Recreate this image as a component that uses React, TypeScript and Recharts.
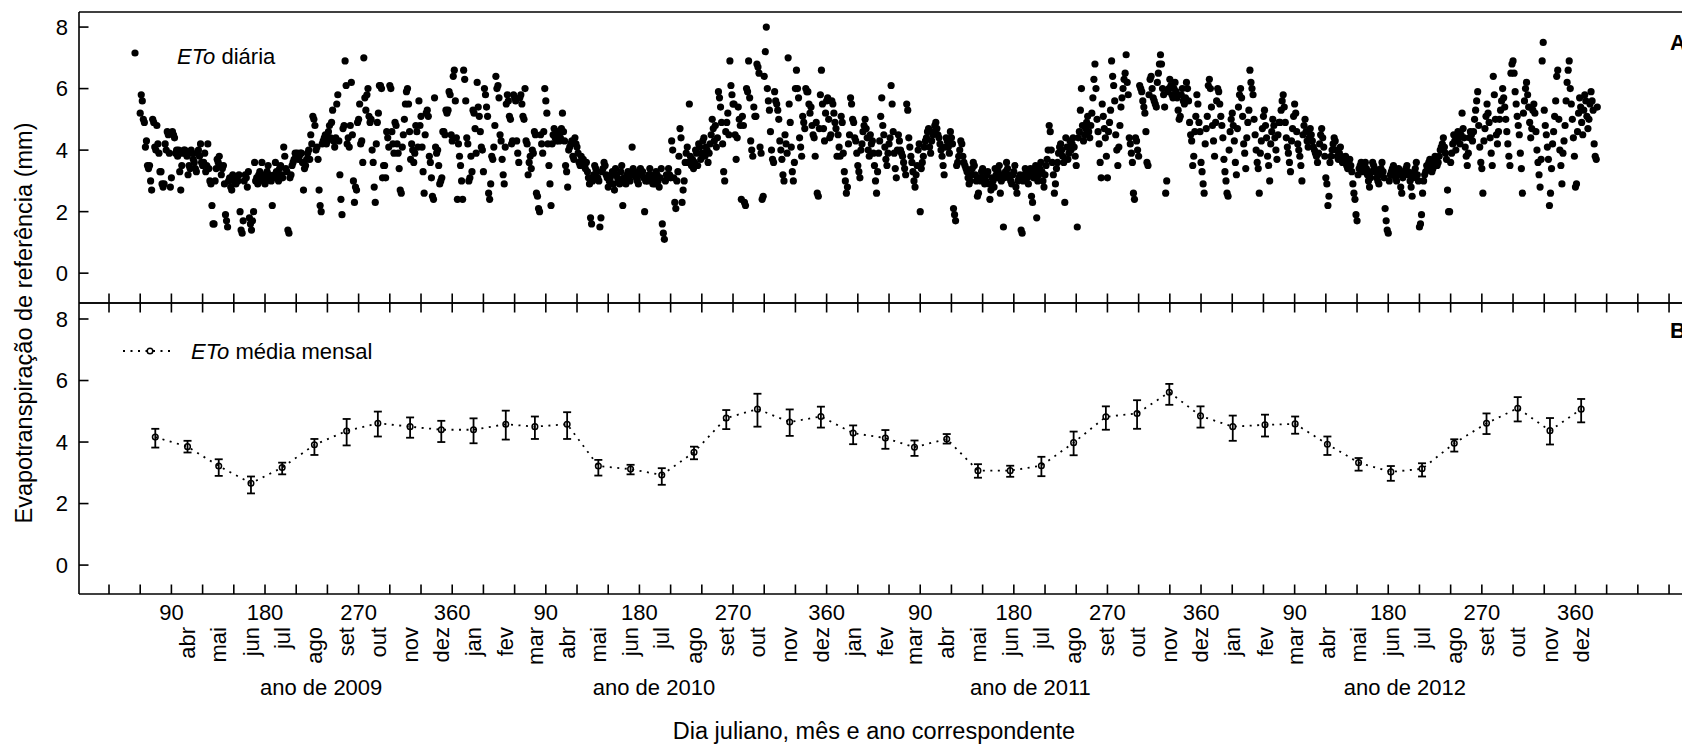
import { ComposedChart, ErrorBar, Line, Scatter, XAxis, YAxis } from "recharts";

const FONT = '"Liberation Sans", Arial, Helvetica, sans-serif';
const TICK = 9.5;
const LINE = 1.6;

// daily ETo (mm), one list per month; 2009 starts in March
const eto2009 = [
  [5.2, 5.8, 5.6, 5.0, 4.9, 4.1, 4.3, 3.5, 3.4, 3.5, 3.0, 2.7, 5.0, 4.9, 4.1, 4.0, 4.8, 4.2, 3.9, 3.3, 3.3, 2.9, 2.8, 2.9, 4.2, 4.0, 4.6, 4.5, 3.9, 2.8, 3.1],
  [4.6, 4.5, 4.4, 3.9, 4.0, 3.8, 4.0, 3.3, 2.7, 3.5, 3.9, 4.0, 4.0, 3.9, 3.8, 3.2, 3.5, 3.4, 4.0, 3.9, 3.7, 3.6, 3.4, 3.3, 3.9, 4.0, 3.8, 4.2, 3.6, 3.5],
  [3.6, 3.9, 3.3, 3.5, 4.2, 3.4, 3.0, 2.9, 2.2, 1.6, 1.6, 3.0, 3.4, 3.7, 3.6, 3.8, 3.5, 3.2, 3.4, 3.5, 2.9, 1.9, 1.7, 1.5, 3.0, 3.1, 2.8, 2.7, 3.2, 3.0, 3.1],
  [2.9, 3.1, 3.0, 3.2, 2.0, 1.4, 1.3, 1.7, 3.0, 3.2, 3.1, 2.8, 3.3, 1.8, 1.6, 1.4, 1.7, 2.0, 3.6, 3.0, 3.1, 2.9, 3.2, 3.3, 3.0, 3.6, 3.2, 3.1, 2.9, 3.0],
  [3.3, 3.5, 3.2, 3.1, 3.0, 2.2, 3.1, 3.2, 3.6, 3.3, 3.1, 3.0, 3.4, 3.5, 3.2, 3.1, 4.1, 3.8, 3.4, 3.3, 1.4, 1.3, 3.1, 3.2, 3.5, 3.6, 3.7, 3.9, 3.8, 3.9, 3.7],
  [3.8, 3.9, 3.9, 3.6, 2.7, 3.4, 3.5, 3.7, 3.9, 4.0, 3.7, 4.5, 4.2, 5.1, 5.0, 4.8, 4.0, 4.1, 3.7, 2.7, 2.2, 2.0, 4.2, 4.3, 4.4, 4.5, 4.2, 4.3, 4.6, 4.8, 4.4],
  [4.9, 5.3, 4.3, 4.1, 4.4, 5.5, 5.8, 4.3, 3.2, 2.4, 1.9, 4.7, 4.8, 6.9, 6.1, 4.2, 4.4, 4.1, 4.8, 6.2, 4.5, 3.0, 2.3, 2.8, 2.7, 4.9, 5.0, 5.5, 4.2, 4.3],
  [3.6, 7.0, 5.7, 5.3, 5.8, 6.0, 5.1, 4.9, 5.0, 4.0, 3.6, 2.8, 2.3, 4.2, 4.9, 5.2, 6.1, 6.1, 6.0, 3.1, 3.5, 3.5, 3.1, 4.6, 4.4, 4.1, 6.1, 6.0, 4.6, 4.2, 3.9],
  [4.9, 4.8, 4.2, 3.9, 3.4, 2.7, 2.6, 4.1, 4.5, 5.0, 5.5, 5.9, 6.0, 5.5, 4.6, 3.7, 4.2, 4.0, 3.6, 3.9, 4.8, 4.6, 4.1, 5.6, 4.8, 5.1, 4.1, 3.3, 2.6, 4.5],
  [5.2, 5.3, 5.1, 3.8, 3.6, 3.1, 2.5, 2.4, 5.7, 4.1, 3.9, 4.0, 3.5, 2.9, 3.0, 3.1, 4.6, 4.6, 4.5, 5.3, 5.2, 5.3, 5.9, 5.8, 4.5, 4.3, 6.4, 6.6, 5.6, 4.4, 2.4],
];

const eto2010 = [
  [4.2, 3.8, 3.5, 3.0, 2.4, 6.6, 6.3, 5.6, 4.4, 4.2, 3.0, 3.1, 3.8, 3.3, 5.3, 5.2, 4.7, 3.9, 6.2, 5.4, 5.1, 4.6, 4.1, 4.0, 3.3, 6.0, 5.8, 5.4, 5.1, 2.6, 2.4],
  [2.9, 3.8, 3.7, 4.1, 4.8, 6.4, 6.0, 6.1, 5.7, 4.5, 4.3, 3.7, 3.2, 2.9, 4.1, 5.5, 5.8, 5.6, 5.1, 5.0, 4.2, 4.3, 5.8, 5.7, 5.6, 4.3, 3.9, 3.6],
  [5.7, 5.8, 5.5, 5.1, 5.0, 6.0, 4.3, 4.2, 3.2, 3.6, 3.8, 3.4, 4.0, 3.9, 4.6, 4.5, 2.6, 2.5, 2.1, 2.0, 4.5, 4.2, 3.9, 4.6, 6.0, 5.6, 5.2, 4.2, 3.5, 2.9, 2.2],
  [4.2, 4.5, 4.7, 4.4, 4.3, 4.6, 4.5, 4.3, 4.4, 4.7, 5.2, 4.6, 4.3, 3.5, 3.3, 2.8, 4.0, 4.1, 4.2, 4.3, 3.8, 3.7, 4.4, 4.2, 4.1, 3.9, 3.6, 3.5, 3.8, 3.7],
  [3.7, 3.5, 3.4, 3.6, 3.3, 3.1, 2.9, 1.8, 1.6, 3.0, 3.2, 3.5, 3.4, 3.3, 3.1, 3.0, 1.5, 1.8, 3.3, 3.4, 3.6, 3.5, 3.2, 3.1, 2.8, 3.0, 3.1, 3.2, 3.3, 2.9, 2.7],
  [3.4, 3.2, 3.1, 3.0, 2.9, 3.3, 3.5, 2.2, 3.1, 3.0, 2.9, 3.2, 3.3, 3.1, 3.0, 3.2, 4.1, 3.4, 3.3, 3.2, 3.1, 3.0, 2.9, 3.3, 3.4, 3.2, 3.3, 3.1, 2.0, 3.0],
  [3.1, 3.0, 3.2, 3.4, 3.2, 3.0, 2.9, 3.1, 2.9, 3.3, 3.2, 3.0, 2.8, 3.1, 3.4, 1.6, 1.3, 1.1, 3.0, 3.2, 3.1, 3.4, 3.2, 3.1, 4.3, 4.0, 3.1, 2.3, 2.1, 3.0, 3.3],
  [3.8, 4.7, 4.4, 2.3, 2.7, 3.0, 3.6, 3.9, 4.1, 3.6, 5.5, 3.8, 3.5, 3.7, 3.4, 3.6, 4.0, 3.9, 3.5, 4.2, 4.1, 3.7, 3.9, 4.3, 4.4, 3.8, 4.1, 4.0, 3.6, 3.9, 4.2],
  [4.5, 5.0, 4.7, 4.3, 4.8, 4.1, 4.4, 5.9, 5.7, 5.4, 4.9, 4.2, 3.3, 3.0, 4.6, 4.9, 5.2, 4.5, 6.9, 6.1, 5.8, 5.5, 5.5, 4.5, 3.7, 4.4, 5.4, 5.0, 4.8, 2.4],
  [5.1, 4.8, 2.3, 2.2, 6.0, 5.9, 6.9, 5.7, 4.3, 4.0, 3.8, 5.4, 5.1, 5.1, 6.8, 6.7, 6.5, 4.1, 3.9, 2.4, 2.5, 6.4, 7.2, 8.0, 6.0, 5.6, 5.3, 4.6, 4.0, 3.7, 3.6],
  [5.9, 5.6, 5.5, 5.3, 5.0, 4.3, 4.0, 3.7, 3.2, 3.0, 4.5, 4.2, 3.9, 7.0, 5.5, 4.9, 4.1, 3.3, 3.0, 3.6, 6.0, 6.6, 6.0, 5.7, 4.4, 4.1, 3.8, 5.1, 4.9, 4.7],
  [6.0, 5.9, 5.9, 5.5, 5.2, 5.4, 4.8, 4.5, 4.4, 3.8, 4.9, 2.6, 2.5, 4.7, 5.8, 6.6, 5.5, 4.7, 4.3, 5.2, 5.6, 5.7, 5.0, 4.4, 4.5, 5.6, 5.5, 5.2, 4.9, 4.7, 3.8],
];

const eto2011 = [
  [4.5, 4.1, 3.8, 5.1, 4.9, 3.9, 3.3, 3.0, 2.6, 2.8, 4.2, 4.5, 5.7, 5.5, 5.0, 4.9, 4.4, 4.3, 3.9, 3.5, 3.3, 3.1, 4.0, 4.2, 4.6, 4.8, 5.0, 4.7, 4.4, 4.0, 3.8],
  [4.5, 4.2, 4.3, 3.9, 3.5, 3.0, 2.6, 3.3, 3.9, 4.3, 5.1, 5.7, 4.8, 4.5, 4.1, 3.7, 3.5, 3.9, 4.2, 4.4, 6.1, 5.5, 4.6, 3.9, 3.4, 3.1, 4.0, 4.5],
  [4.3, 4.0, 3.9, 3.8, 3.6, 3.4, 3.2, 5.5, 5.3, 4.4, 4.1, 3.8, 3.6, 3.3, 3.0, 2.8, 3.2, 3.5, 4.0, 4.2, 2.0, 3.4, 3.6, 3.8, 4.1, 4.3, 4.4, 4.6, 4.7, 4.1, 3.9],
  [4.3, 4.5, 4.6, 4.8, 4.9, 4.7, 4.5, 4.4, 4.2, 4.0, 3.8, 3.5, 3.2, 4.1, 4.4, 4.3, 4.1, 3.9, 4.6, 4.4, 4.2, 2.1, 1.9, 1.7, 3.5, 3.6, 3.8, 4.0, 4.3, 4.2],
  [3.8, 3.6, 3.5, 3.4, 3.3, 3.1, 2.9, 3.0, 3.2, 3.4, 3.6, 3.5, 3.2, 3.0, 2.5, 2.6, 3.1, 3.0, 3.3, 3.4, 3.1, 2.9, 3.0, 3.2, 3.3, 2.9, 2.4, 2.7, 3.1, 3.0, 2.8],
  [3.4, 3.2, 3.1, 3.3, 3.5, 2.6, 3.0, 3.2, 1.5, 3.1, 3.3, 3.6, 3.4, 3.2, 3.1, 3.0, 2.9, 3.2, 3.3, 3.5, 2.8, 2.6, 3.0, 3.1, 3.2, 1.4, 1.3, 3.0, 3.2, 3.4],
  [3.3, 3.1, 2.9, 3.2, 3.4, 2.5, 2.3, 3.1, 3.3, 3.5, 1.8, 3.0, 3.2, 3.4, 3.6, 3.3, 3.0, 2.8, 3.2, 3.5, 3.7, 4.0, 4.8, 4.6, 4.0, 3.6, 3.2, 2.6, 2.9, 3.4, 3.6],
  [3.9, 4.1, 4.2, 4.0, 3.8, 3.6, 2.3, 4.4, 4.1, 3.7, 3.9, 4.3, 4.0, 4.2, 4.4, 4.1, 3.8, 3.5, 1.5, 4.4, 4.6, 5.3, 6.0, 4.8, 4.3, 4.5, 4.7, 4.9, 5.1, 4.6, 4.4],
  [4.8, 5.2, 5.7, 6.3, 6.8, 6.0, 5.0, 4.6, 4.2, 3.6, 3.1, 5.5, 5.1, 4.7, 4.4, 3.8, 3.1, 4.6, 4.9, 5.3, 6.9, 6.4, 6.1, 5.6, 4.5, 4.0, 3.5, 4.1, 4.8, 5.4],
  [5.7, 6.0, 6.3, 6.5, 7.1, 6.2, 5.8, 4.4, 4.2, 3.9, 3.6, 2.6, 2.4, 4.4, 4.3, 4.0, 3.8, 6.1, 6.0, 5.9, 5.6, 5.4, 5.2, 4.6, 3.6, 3.5, 5.8, 6.3, 6.4, 6.0, 5.7],
  [5.6, 5.5, 5.4, 6.2, 6.5, 6.8, 7.1, 6.8, 6.0, 5.8, 5.4, 2.6, 3.0, 5.9, 6.0, 6.3, 6.1, 5.8, 5.7, 6.0, 6.2, 5.9, 5.7, 5.3, 5.0, 5.1, 5.8, 6.0, 5.6, 5.5],
  [5.7, 6.2, 6.0, 5.6, 4.9, 4.5, 4.3, 3.5, 3.8, 4.6, 5.1, 5.8, 5.5, 4.9, 4.6, 3.6, 3.3, 2.9, 2.6, 4.2, 4.7, 5.1, 6.1, 6.3, 6.0, 5.4, 4.8, 4.3, 3.8, 4.9, 5.6],
];

const eto2012 = [
  [6.0, 5.9, 5.5, 5.1, 4.8, 4.4, 3.7, 3.3, 3.0, 2.6, 2.5, 4.0, 4.6, 5.0, 5.2, 4.8, 4.3, 3.6, 3.2, 4.7, 5.4, 5.8, 6.0, 5.7, 5.1, 4.2, 3.9, 3.4, 4.4, 4.9, 5.3],
  [6.6, 6.2, 6.0, 5.8, 5.0, 4.5, 4.0, 3.6, 3.4, 2.6, 3.9, 4.3, 4.7, 5.1, 5.3, 4.8, 4.4, 3.8, 3.5, 3.0, 4.2, 4.6, 5.0, 4.8, 4.4, 4.0, 3.7, 4.5, 4.9],
  [4.9, 5.3, 5.6, 5.8, 5.4, 4.9, 4.4, 4.1, 3.9, 3.6, 3.3, 4.3, 4.7, 5.1, 5.5, 5.2, 4.6, 4.2, 4.0, 3.8, 3.5, 3.0, 4.5, 4.8, 5.0, 4.6, 4.3, 4.1, 4.4, 4.7, 4.5],
  [4.3, 4.1, 4.0, 3.9, 3.8, 3.6, 3.9, 4.2, 4.5, 4.7, 4.4, 4.1, 3.8, 3.1, 2.9, 2.2, 2.5, 3.6, 3.8, 4.0, 4.2, 4.4, 4.3, 4.0, 3.8, 3.7, 3.9, 4.1, 3.8, 3.6],
  [3.7, 3.6, 3.8, 3.5, 3.4, 3.6, 3.7, 3.5, 3.3, 2.9, 2.6, 2.4, 1.9, 1.7, 3.2, 3.4, 3.5, 3.6, 3.4, 3.3, 3.5, 3.6, 3.4, 3.2, 3.0, 2.8, 3.1, 3.3, 3.6, 3.5, 3.4],
  [3.3, 3.1, 3.0, 2.9, 3.2, 3.4, 3.6, 3.3, 3.1, 2.1, 1.7, 1.4, 1.3, 3.0, 3.2, 3.3, 3.4, 3.5, 3.2, 3.1, 3.0, 3.3, 3.4, 3.2, 2.8, 2.6, 3.1, 3.3, 3.2, 3.4],
  [3.5, 3.3, 3.2, 3.0, 2.8, 2.5, 3.1, 3.3, 3.4, 3.6, 3.2, 3.0, 1.5, 1.6, 1.9, 2.6, 3.0, 3.2, 3.3, 3.5, 3.4, 3.6, 3.7, 3.5, 3.3, 3.4, 3.6, 3.8, 3.7, 3.5, 3.6],
  [3.8, 4.0, 4.1, 4.2, 4.4, 4.1, 3.9, 3.7, 2.7, 2.0, 2.0, 3.6, 3.9, 4.2, 4.5, 4.3, 4.0, 4.3, 4.6, 4.4, 4.2, 4.5, 5.2, 4.7, 4.4, 4.1, 3.8, 3.5, 3.9, 4.4, 4.6],
  [4.5, 4.3, 4.6, 5.0, 5.3, 5.6, 5.9, 4.8, 4.1, 3.6, 3.4, 2.6, 4.3, 4.7, 5.1, 5.5, 5.2, 4.9, 4.4, 3.9, 3.5, 6.4, 5.8, 5.0, 4.5, 4.2, 4.6, 5.0, 5.3, 5.6],
  [6.0, 5.7, 5.4, 5.0, 4.6, 4.2, 3.8, 3.5, 6.5, 6.8, 6.9, 6.5, 5.9, 5.5, 5.1, 4.8, 4.5, 3.9, 3.4, 2.6, 5.2, 5.6, 6.0, 6.2, 5.8, 5.4, 4.9, 4.4, 4.7, 5.3, 5.5],
  [5.2, 4.6, 4.0, 3.6, 3.2, 2.8, 3.7, 6.9, 7.5, 5.3, 4.8, 4.5, 4.1, 3.7, 2.2, 2.6, 3.4, 4.2, 4.6, 5.1, 5.6, 6.4, 6.6, 5.0, 4.0, 3.5, 2.9, 3.9, 4.3, 4.8],
  [5.6, 6.2, 6.6, 6.9, 6.0, 5.5, 5.0, 4.4, 3.8, 2.8, 2.9, 4.6, 5.2, 5.7, 5.4, 4.9, 4.5, 5.3, 5.8, 5.6, 5.1, 4.7, 5.0, 5.5, 5.9, 5.6, 5.3, 4.2, 3.8, 3.7, 5.4],
];

// monthly mean ETo (mm) from March 2009 to December 2012, with interval limits
const monthlyMean = [
  4.16, 3.85, 3.22, 2.66, 3.17, 3.91, 4.36, 4.61, 4.5, 4.4,
  4.4, 4.58, 4.5, 4.58, 3.22, 3.12, 2.93, 3.67, 4.78, 5.07, 4.65, 4.83,
  4.29, 4.13, 3.83, 4.1, 3.07, 3.07, 3.23, 3.98, 4.82, 4.93, 5.62, 4.85,
  4.5, 4.56, 4.59, 3.93, 3.33, 3.03, 3.13, 3.96, 4.61, 5.1, 4.37, 5.07,
];
const monthlyLow = [
  3.82, 3.66, 2.9, 2.33, 2.95, 3.58, 3.89, 4.18, 4.14, 4.0,
  3.96, 4.08, 4.1, 4.1, 2.91, 2.95, 2.61, 3.44, 4.42, 4.5, 4.2, 4.47,
  3.93, 3.78, 3.55, 3.95, 2.84, 2.87, 2.89, 3.57, 4.4, 4.43, 5.21, 4.47,
  4.04, 4.18, 4.27, 3.58, 3.07, 2.74, 2.88, 3.69, 4.26, 4.67, 3.92, 4.64,
];
const monthlyHigh = [
  4.43, 4.04, 3.44, 2.88, 3.33, 4.1, 4.75, 4.99, 4.8, 4.69,
  4.77, 5.02, 4.83, 4.97, 3.42, 3.26, 3.15, 3.85, 5.04, 5.57, 5.06, 5.15,
  4.54, 4.39, 4.05, 4.26, 3.28, 3.23, 3.52, 4.34, 5.16, 5.36, 5.89, 5.16,
  4.86, 4.89, 4.83, 4.18, 3.48, 3.22, 3.31, 4.09, 4.93, 5.46, 4.78, 5.4,
];

const yTicks = [0, 2, 4, 6, 8];
const julianTicks = [90, 180, 270, 360, 450, 540, 630, 720, 810, 900, 990, 1080, 1170, 1260, 1350, 1440];
const julianText = ["90", "180", "270", "360"];
const monthNames = ["jan", "fev", "mar", "abr", "mai", "jun", "jul", "ago", "set", "out", "nov", "dez"];
const yearLabels = ["ano de 2009", "ano de 2010", "ano de 2011", "ano de 2012"];
const yearLabelDays = [234, 554, 916, 1276];

const DAY0 = Date.UTC(2009, 0, 1);
const dayOf = (y: number, m: number, d: number) => Math.round((Date.UTC(y, m, d) - DAY0) / 86400000) + 1;

const dailyYears = [
  { year: 2009, first: 2, months: eto2009 },
  { year: 2010, first: 0, months: eto2010 },
  { year: 2011, first: 0, months: eto2011 },
  { year: 2012, first: 0, months: eto2012 },
];
const dailyData = dailyYears.flatMap(({ year, first, months }) =>
  months.flatMap((vals, k) => vals.map((v, i) => ({ day: dayOf(year, first + k, i + 1), eto: v }))),
);

const monthlyData = monthlyMean.map((v, i) => ({
  day: dayOf(2009, 2 + i, 15) + 0.5,
  eto: v,
  err: [v - monthlyLow[i], monthlyHigh[i] - v],
}));

// month labels: abr/2009 .. dez/2012
const monthLabelDays = Array.from({ length: 45 }, (_, i) => dayOf(2009, 3 + i, 15) + 0.5);
const monthLabelText = new Map(monthLabelDays.map((d, i) => [d, monthNames[(3 + i) % 12]]));

const tickDays = Array.from({ length: 52 }, (_, i) => 30 * (i + 1));

const X_DOMAIN: [number, number] = [1.15, 1571.3];
const Y_DOMAIN_A: [number, number] = [-0.97, 8.49];
const Y_DOMAIN_B: [number, number] = [-0.94, 8.52];
const CHART_W = 1712;

type TickProps = { x: number; y: number; index: number; payload: { value: number } };

const tickUp = (p: TickProps) => (
  <line x1={p.x} x2={p.x} y1={p.y} y2={p.y - TICK} stroke="#000" strokeWidth={LINE} />
);
const tickDown = (p: TickProps) => (
  <line x1={p.x} x2={p.x} y1={p.y} y2={p.y + TICK} stroke="#000" strokeWidth={LINE} />
);

const yTick = (p: TickProps) => (
  <g>
    <line x1={p.x} x2={p.x + TICK} y1={p.y} y2={p.y} stroke="#000" strokeWidth={LINE} />
    <text x={p.x - 11} y={p.y + 7.9} textAnchor="end" fontSize={22} fontFamily={FONT} fill="#000">
      {p.payload.value}
    </text>
  </g>
);

// the label axes sit 1px, 2px and 3px below the plot bottom
const julianTick = (p: TickProps) => {
  const i = julianTicks.indexOf(p.payload.value);
  return (
    <text x={p.x} y={p.y + 25} textAnchor="middle" fontSize={22} fontFamily={FONT} fill="#000">
      {julianText[(i < 0 ? 0 : i) % 4]}
    </text>
  );
};

const monthTick = (p: TickProps) => {
  const label = monthLabelText.get(p.payload.value) ?? monthNames[(3 + p.index) % 12];
  const ty = p.y + 31;
  return (
    <text
      x={p.x}
      y={ty}
      dy="0.35em"
      transform={`rotate(-90 ${p.x} ${ty})`}
      textAnchor="end"
      fontSize={22}
      fontFamily={FONT}
      fill="#000"
    >
      {label}
    </text>
  );
};

const yearTick = (p: TickProps) => {
  const i = yearLabelDays.indexOf(p.payload.value);
  return (
    <text x={p.x} y={p.y + 98} textAnchor="middle" fontSize={22} fontFamily={FONT} fill="#000">
      {yearLabels[i < 0 ? p.index : i]}
    </text>
  );
};

const axisLine = { stroke: "#000", strokeWidth: LINE };

function xAxisProps(id: string) {
  return {
    xAxisId: id,
    dataKey: "day",
    type: "number" as const,
    domain: X_DOMAIN,
    allowDataOverflow: true,
    height: 1,
    tickSize: 0,
    tickMargin: 0,
    tickLine: false,
    interval: 0 as const,
  };
}

export default function App() {
  return (
    <div
      style={{
        position: "fixed",
        left: 0,
        top: 0,
        width: 1682,
        height: 746,
        overflow: "hidden",
        background: "#fff",
        fontFamily: FONT,
      }}
    >
      <div style={{ position: "absolute", left: 0, top: 0 }}>
        <ComposedChart width={CHART_W} height={304} margin={{ top: 11, right: 0, bottom: 0, left: 0 }}>
          <XAxis {...xAxisProps("a")} ticks={tickDays} axisLine={axisLine} tick={tickUp} />
          <XAxis {...xAxisProps("aTop")} orientation="top" ticks={tickDays} axisLine={axisLine} tick={false} />
          <YAxis
            dataKey="eto"
            type="number"
            domain={Y_DOMAIN_A}
            allowDataOverflow
            ticks={yTicks}
            interval={0}
            width={79}
            tickSize={0}
            tickMargin={0}
            tickLine={false}
            axisLine={axisLine}
            tick={yTick}
          />
          <Scatter
            xAxisId="a"
            data={dailyData}
            dataKey="eto"
            isAnimationActive={false}
            shape={(p: { cx?: number; cy?: number }) => <circle cx={p.cx} cy={p.cy} r={3.6} fill="#000" />}
          />
        </ComposedChart>
      </div>

      <div style={{ position: "absolute", left: 0, top: 302 }}>
        <ComposedChart width={CHART_W} height={404} margin={{ top: 0, right: 0, bottom: 108, left: 0 }}>
          <XAxis {...xAxisProps("b")} ticks={tickDays} axisLine={axisLine} tick={tickUp} />
          <XAxis {...xAxisProps("bTop")} orientation="top" ticks={tickDays} axisLine={axisLine} tick={tickDown} />
          <XAxis {...xAxisProps("jul")} ticks={julianTicks} axisLine={false} tick={julianTick} />
          <XAxis {...xAxisProps("mon")} ticks={monthLabelDays} axisLine={false} tick={monthTick} />
          <XAxis {...xAxisProps("yr")} ticks={yearLabelDays} axisLine={false} tick={yearTick} />
          <YAxis
            dataKey="eto"
            type="number"
            domain={Y_DOMAIN_B}
            allowDataOverflow
            ticks={yTicks}
            interval={0}
            width={79}
            tickSize={0}
            tickMargin={0}
            tickLine={false}
            axisLine={axisLine}
            tick={yTick}
          />
          <Line
            xAxisId="b"
            data={monthlyData}
            dataKey="eto"
            stroke="#000"
            strokeWidth={1.8}
            strokeDasharray="2 5.5"
            activeDot={false}
            isAnimationActive={false}
            dot={(p: { cx?: number; cy?: number; index?: number }) => (
              <circle key={`m${p.index}`} cx={p.cx} cy={p.cy} r={2.8} fill="none" stroke="#000" strokeWidth={1.5} />
            )}
          >
            <ErrorBar dataKey="err" direction="y" width={4} stroke="#000" strokeWidth={1.8} isAnimationActive={false} />
          </Line>
        </ComposedChart>
      </div>

      <svg width={1682} height={746} style={{ position: "absolute", left: 0, top: 0 }} fontFamily={FONT}>
        <text transform="rotate(-90 32 323)" x={32} y={323} textAnchor="middle" fontSize={23.5} fill="#000">
          Evapotranspiração de referência (mm)
        </text>
        <text x={874} y={739} textAnchor="middle" fontSize={23.5} fill="#000">
          Dia juliano, mês e ano correspondente
        </text>

        <circle cx={135} cy={53} r={3.6} fill="#000" />
        <text x={177} y={63.5} fontSize={22} fill="#000">
          <tspan fontStyle="italic">ETo</tspan> diária
        </text>

        <line x1={123} x2={171} y1={351} y2={351} stroke="#000" strokeWidth={1.8} strokeDasharray="2 5.5" />
        <circle cx={150} cy={351} r={2.8} fill="#fff" stroke="#000" strokeWidth={1.5} />
        <text x={191} y={358.5} fontSize={22} fill="#000">
          <tspan fontStyle="italic">ETo</tspan> média mensal
        </text>

        <text x={1670} y={50} fontSize={22} fontWeight="bold" fill="#000">
          A
        </text>
        <text x={1670} y={338} fontSize={22} fontWeight="bold" fill="#000">
          B
        </text>
      </svg>
    </div>
  );
}
